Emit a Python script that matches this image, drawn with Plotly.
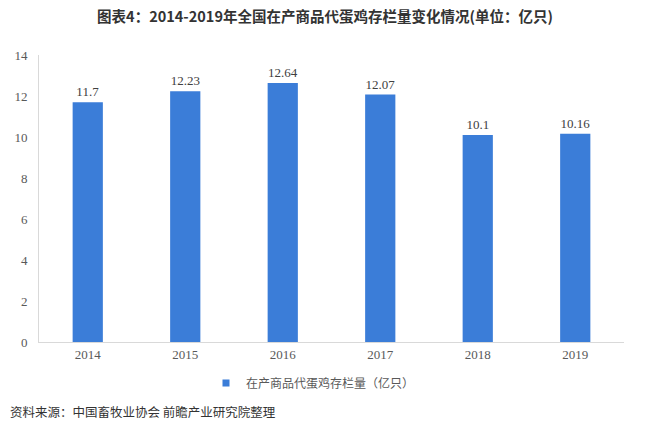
import plotly.graph_objects as go

years = ["2014", "2015", "2016", "2017", "2018", "2019"]
stock = [11.7, 12.23, 12.64, 12.07, 10.1, 10.16]
labels = ["11.7", "12.23", "12.64", "12.07", "10.1", "10.16"]
series_name = "在产商品代蛋鸡存栏量（亿只）"
title_text = "图表4：2014-2019年全国在产商品代蛋鸡存栏量变化情况(单位：亿只)"
source_text = "资料来源：中国畜牧业协会 前瞻产业研究院整理"

W, H = 650, 426
L, R, T, B = 39, 26, 55, 84
ph = H - T - B
pw = W - L - R
bar_color = "#3B7DD8"

fig = go.Figure()
fig.add_trace(go.Bar(
    x=years, y=stock, name=series_name, showlegend=False,
    marker=dict(color=bar_color, line=dict(width=0)),
    text=labels, textposition="outside", cliponaxis=False,
    textfont=dict(family="Liberation Serif, Times New Roman, serif", size=13, color="#404040"),
    width=0.31,
))
# legend entry with a small square swatch
fig.add_trace(go.Scatter(
    x=[None], y=[None], mode="markers", name=series_name,
    marker=dict(symbol="square", size=7, color=bar_color),
))

fig.update_layout(
    width=W, height=H,
    margin=dict(l=L, r=R, t=T, b=B, autoexpand=False),
    paper_bgcolor="white", plot_bgcolor="white",
    showlegend=True,
    title=dict(text=title_text, x=0.5, xanchor="center", xref="container",
               y=1 - 17 / H, yanchor="middle", yref="container",
               font=dict(family="Noto Sans CJK SC, sans-serif", size=14.5, color="#333333", weight="bold")),
    legend=dict(orientation="h", x=(313 - L) / pw, xanchor="center", y=(342 - 383) / ph, yanchor="middle",
                font=dict(family="Noto Sans CJK SC, sans-serif", size=12, color="#595959"),
                itemwidth=30, bgcolor="rgba(0,0,0,0)"),
    xaxis=dict(showgrid=False, showline=True, linecolor="#D9D9D9", linewidth=1,
               ticks="", tickfont=dict(family="Liberation Serif, Times New Roman, serif", size=13, color="#595959")),
    yaxis=dict(range=[0, 14], dtick=2, showgrid=False, showline=True, linecolor="#D9D9D9", linewidth=1,
               zeroline=False, ticks="", ticklabelstandoff=8,
               tickfont=dict(family="Liberation Serif, Times New Roman, serif", size=13, color="#595959")),
    bargap=0.69,
    annotations=[dict(text=source_text, xref="paper", yref="paper",
                      x=(8 - L) / pw, xanchor="left", y=(342 - 411) / ph, yanchor="middle",
                      showarrow=False,
                      font=dict(family="Noto Sans CJK SC, sans-serif", size=12.5, color="#333333"))],
)

fig.write_html("out.html", config={"displayModeBar": False},
               post_script="document.body.style.margin='0';document.body.style.overflow='hidden';")
